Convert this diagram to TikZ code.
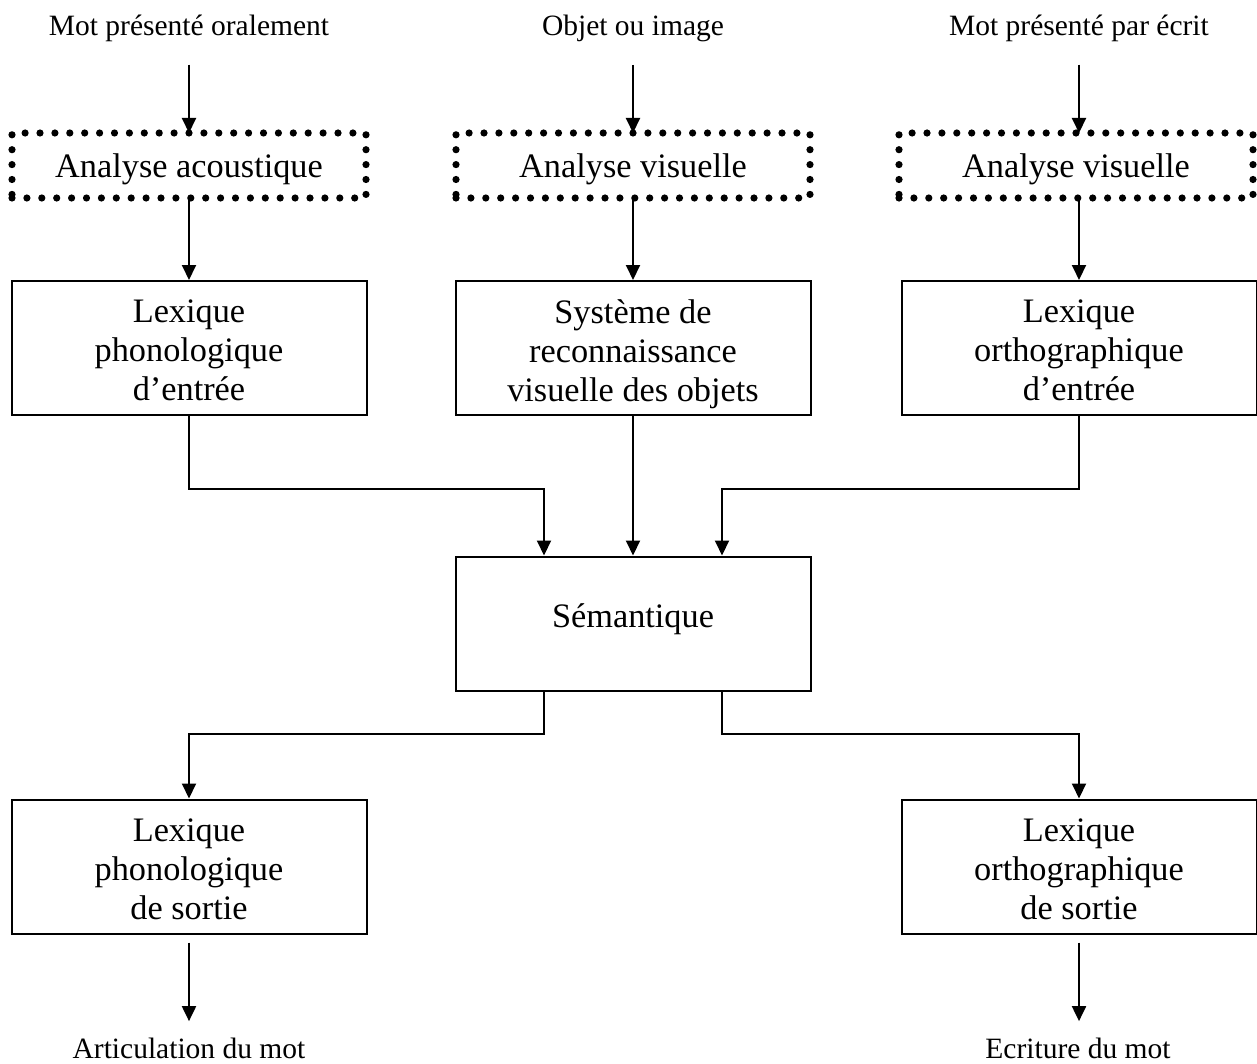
\documentclass[tikz,border=0pt]{standalone}
\usepackage{fontspec}
\setmainfont{Liberation Serif}
\usetikzlibrary{arrows.meta,calc}
\newcommand\firstline{\rule{0pt}{14pt}}
\newcommand\nodepth[1]{\raisebox{0pt}[\height][0pt]{#1}}
\begin{document}
\begin{tikzpicture}[x=0.5pt,y=-0.5pt,
  box/.style={draw,line width=1pt,minimum width=177.5pt,minimum height=67pt,align=center,inner sep=0pt,font=\fontsize{17.15}{19.5}\selectfont},
  dotbox/.style={draw,line width=3.6pt,line cap=round,dash pattern=on 0pt off 7.45pt,minimum width=177pt,minimum height=32.5pt,inner sep=0pt,outer sep=0pt,text height=12.5pt,text depth=0pt,font=\fontsize{17.15}{19.5}\selectfont},
  lab/.style={inner sep=0pt,anchor=base,font=\fontsize{14.75}{17}\selectfont},
  arr/.style={line width=1pt,-{Triangle[length=7.5pt,width=7pt]}}]

\useasboundingbox (0,0) rectangle (1257,1064);

% input labels
\node[lab] (in1) at (189,36) {Mot présenté oralement};
\node[lab] (in2) at (633,36) {Objet ou image};
\node[lab] (in3) at (1079,36) {Mot présenté par écrit};

% dotted analysis boxes
\node[dotbox] (aa) at (189,165.5) {Analyse acoustique};
\node[dotbox] (av1) at (633,165.5) {Analyse visuelle};
\node[dotbox] (av2) at (1076,165.5) {Analyse visuelle};

% input lexicons
\node[box] (lpi) at (189,348) {\firstline Lexique\\phonologique\\d’entrée};
\node[box] (srv) at (633,348) {\firstline Système de\\reconnaissance\\\nodepth{visuelle des objets}};
\node[box] (loi) at (1079,348) {\firstline Lexique\\orthographique\\d’entrée};

% semantics
\node[box,text height=10pt,text depth=6.5pt] (sem) at (633,623.5) {Sémantique};

% output lexicons
\node[box] (lps) at (189,866.5) {\firstline Lexique\\phonologique\\de sortie};
\node[box] (los) at (1079,866.5) {\firstline Lexique\\orthographique\\de sortie};

% output labels
\node[lab] (out1) at (189,1058) {Articulation du mot};
\node[lab] (out2) at (1078,1058) {Ecriture du mot};

% arrows
\draw[arr,shorten <=11pt] (in1.south) -- (in1.south |- aa.north);
\draw[arr,shorten <=11pt] (in2.south) -- (in2.south |- av1.north);
\draw[arr,shorten <=11pt] (in3.south) -- (in3.south |- av2.north);

\draw[arr] (aa.south -| lpi.north) -- (lpi.north);
\draw[arr] (av1.south -| srv.north) -- (srv.north);
\draw[arr] (av2.south -| loi.north) -- (loi.north);

\draw[arr] (lpi.south) |- ($(sem.north)+(-89,-67)$) -- ($(sem.north)+(-89,0)$);
\draw[arr] (srv.south) -- (sem.north);
\draw[arr] (loi.south) |- ($(sem.north)+(89,-67)$) -- ($(sem.north)+(89,0)$);

\draw[arr] ($(sem.south)+(-89,0)$) -- ++(0,42) -| (lps.north);
\draw[arr] ($(sem.south)+(89,0)$) -- ++(0,42) -| (los.north);

\draw[arr,shorten <=4pt,shorten >=8pt] (lps.south) -- (lps.south |- out1.north);
\draw[arr,shorten <=4pt,shorten >=8pt] (los.south) -- (los.south |- out2.north);
\end{tikzpicture}
\end{document}
